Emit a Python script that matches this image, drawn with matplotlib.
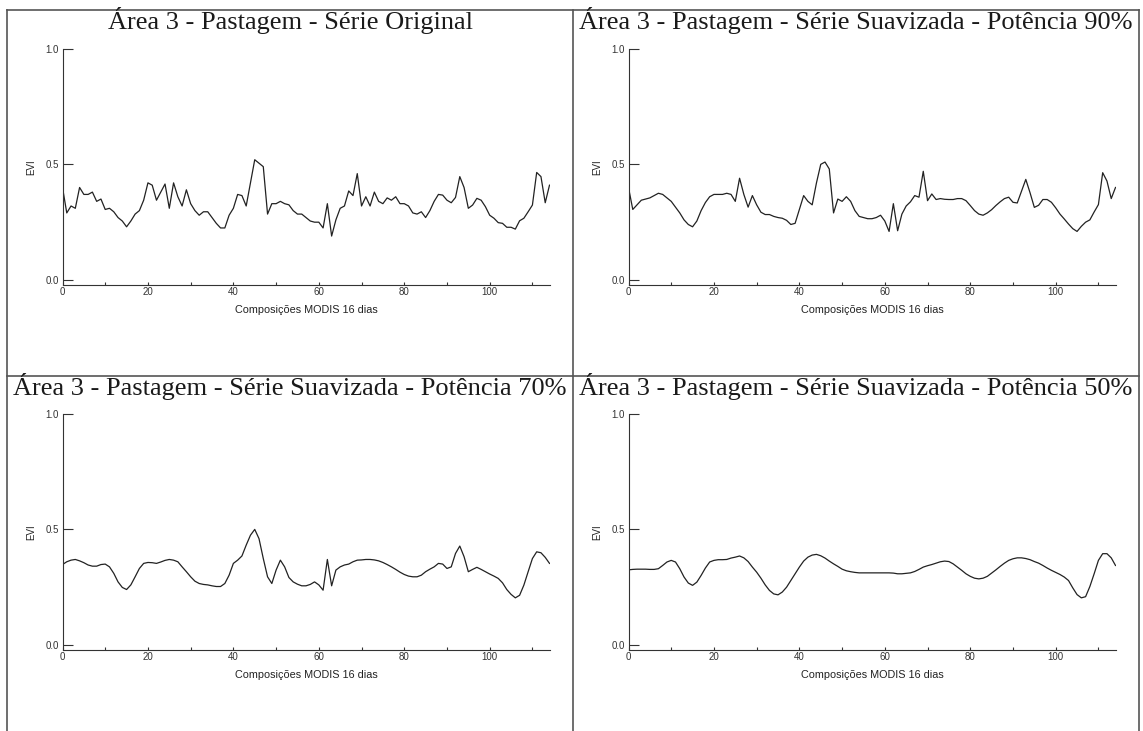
import numpy as np
import matplotlib.pyplot as plt
from matplotlib.lines import Line2D

# indice das composicoes MODIS (0..114)
composicoes = np.arange(115)

evi_original = [0.40, 0.29, 0.32, 0.31, 0.40, 0.37, 0.37, 0.38, 0.34, 0.35,
                0.305, 0.31, 0.295, 0.27, 0.255, 0.23, 0.255, 0.285, 0.30, 0.345,
                0.42, 0.41, 0.345, 0.38, 0.415, 0.31, 0.42, 0.36, 0.32, 0.39,
                0.33, 0.30, 0.28, 0.295, 0.295, 0.27, 0.245, 0.225, 0.225, 0.28,
                0.31, 0.37, 0.365, 0.32, 0.42, 0.52, 0.505, 0.49, 0.285, 0.33,
                0.33, 0.34, 0.33, 0.325, 0.30, 0.285, 0.285, 0.27, 0.255, 0.25,
                0.25, 0.225, 0.33, 0.19, 0.26, 0.31, 0.32, 0.385, 0.365, 0.46,
                0.32, 0.36, 0.32, 0.38, 0.34, 0.33, 0.355, 0.345, 0.36, 0.33,
                0.33, 0.32, 0.29, 0.285, 0.295, 0.27, 0.30, 0.34, 0.37, 0.367,
                0.345, 0.334, 0.357, 0.447, 0.40, 0.31, 0.324, 0.353, 0.345, 0.317,
                0.28, 0.267, 0.248, 0.245, 0.228, 0.228, 0.22, 0.256, 0.267, 0.295,
                0.324, 0.465, 0.447, 0.334, 0.41]

evi_90 = [0.40, 0.305, 0.325, 0.345, 0.35, 0.355, 0.365, 0.375, 0.37, 0.355,
          0.34, 0.315, 0.29, 0.26, 0.24, 0.23, 0.255, 0.30, 0.335, 0.36,
          0.37, 0.37, 0.37, 0.375, 0.37, 0.34, 0.44, 0.37, 0.315, 0.365,
          0.325, 0.293, 0.283, 0.283, 0.275, 0.27, 0.267, 0.258, 0.24, 0.245,
          0.305, 0.365, 0.34, 0.325, 0.42, 0.50, 0.51, 0.48, 0.29, 0.35,
          0.34, 0.36, 0.34, 0.30, 0.275, 0.27, 0.265, 0.265, 0.27, 0.28,
          0.255, 0.21, 0.33, 0.213, 0.285, 0.32, 0.338, 0.365, 0.358, 0.47,
          0.343, 0.372, 0.348, 0.352, 0.349, 0.348, 0.348, 0.352, 0.352, 0.343,
          0.322, 0.30, 0.285, 0.28, 0.29, 0.304, 0.322, 0.338, 0.352, 0.358,
          0.336, 0.333, 0.384, 0.435, 0.377, 0.314, 0.323, 0.348, 0.348, 0.336,
          0.312, 0.285, 0.264, 0.242, 0.222, 0.21, 0.232, 0.25, 0.26, 0.294,
          0.326, 0.464, 0.428, 0.352, 0.40]

evi_70 = [0.348, 0.36, 0.367, 0.37, 0.364, 0.356, 0.346, 0.341, 0.341, 0.348,
          0.35, 0.338, 0.31, 0.273, 0.249, 0.24, 0.26, 0.295, 0.331, 0.353,
          0.357, 0.356, 0.353, 0.359, 0.366, 0.37, 0.367, 0.36, 0.338, 0.317,
          0.295, 0.276, 0.266, 0.262, 0.26, 0.256, 0.253, 0.253, 0.266, 0.302,
          0.353, 0.367, 0.385, 0.432, 0.475, 0.50, 0.46, 0.374, 0.295, 0.266,
          0.324, 0.367, 0.338, 0.292, 0.273, 0.263, 0.256, 0.256, 0.262, 0.273,
          0.26, 0.237, 0.37, 0.256, 0.324, 0.338, 0.346, 0.35, 0.36, 0.367,
          0.368, 0.37, 0.37, 0.368, 0.364, 0.357, 0.348, 0.338, 0.327, 0.315,
          0.305, 0.298, 0.295, 0.295, 0.302, 0.317, 0.328, 0.338, 0.353, 0.35,
          0.331, 0.338, 0.396, 0.428, 0.382, 0.317, 0.327, 0.336, 0.327, 0.317,
          0.307, 0.298, 0.288, 0.269, 0.24, 0.219, 0.204, 0.215, 0.259, 0.317,
          0.374, 0.403, 0.399, 0.379, 0.353]

evi_50 = [0.325, 0.327, 0.328, 0.328, 0.328, 0.327, 0.327, 0.33, 0.344, 0.359,
          0.366, 0.359, 0.33, 0.294, 0.268, 0.258, 0.272, 0.301, 0.333, 0.359,
          0.366, 0.369, 0.369, 0.37, 0.376, 0.38, 0.385, 0.377, 0.361, 0.337,
          0.315, 0.289, 0.26, 0.236, 0.221, 0.217, 0.229, 0.25, 0.279, 0.308,
          0.337, 0.363, 0.38, 0.389, 0.392, 0.386, 0.376, 0.363, 0.351, 0.34,
          0.328, 0.321, 0.317, 0.314, 0.312, 0.312, 0.312, 0.312, 0.312, 0.312,
          0.312, 0.312, 0.311, 0.308, 0.308, 0.31, 0.312, 0.318, 0.327, 0.337,
          0.343, 0.348, 0.354, 0.36, 0.363, 0.361, 0.351, 0.337, 0.323, 0.308,
          0.297, 0.289, 0.286, 0.289, 0.297, 0.311, 0.325, 0.34, 0.354, 0.366,
          0.373, 0.377, 0.377, 0.374, 0.369, 0.361, 0.354, 0.344, 0.333, 0.323,
          0.314, 0.305, 0.294, 0.279, 0.247, 0.218, 0.204, 0.209, 0.253, 0.308,
          0.366, 0.395, 0.395, 0.377, 0.344]

titulos = ["Área 3 - Pastagem - Série Original",
           "Área 3 - Pastagem - Série Suavizada - Potência 90%",
           "Área 3 - Pastagem - Série Suavizada - Potência 70%",
           "Área 3 - Pastagem - Série Suavizada - Potência 50%"]
series = [evi_original, evi_90, evi_70, evi_50]

W, H = 1143, 731
fig = plt.figure(figsize=(W / 100, H / 100), dpi=100)

def fx(px):
    return px / W

def fy(py):
    return 1 - py / H

# caixas dos paineis (pixels: esquerda x=0, topo y=1.0, base do eixo)
lefts = [62.5, 628.5, 62.5, 628.5]
tops = [48.7, 48.7, 413.8, 413.8]
bottoms = [285, 285, 650, 650]
cell_cx = [290, 856, 290, 856]
title_base = [29, 29, 395.5, 395.5]
ax_w = 487

for i in range(4):
    ax = fig.add_axes([fx(lefts[i]), fy(bottoms[i]), fx(ax_w),
                       (bottoms[i] - tops[i]) / H])
    ax.plot(composicoes, series[i], color="#222222", lw=0.9)
    ax.set_xlim(0, 114)
    ax.set_ylim(-0.0216, 1.0)
    ax.spines["top"].set_visible(False)
    ax.spines["right"].set_visible(False)
    for s in ["left", "bottom"]:
        ax.spines[s].set_linewidth(0.8)
        ax.spines[s].set_color("#333333")
    ax.set_yticks([0.0, 0.5, 1.0])
    ax.set_yticklabels(["0.0", "0.5", "1.0"])
    ax.set_xticks(np.arange(0, 120, 10))
    ax.set_xticklabels([str(v) if v % 20 == 0 else "" for v in range(0, 120, 10)])
    ax.tick_params(axis="y", direction="in", length=7, width=0.8, pad=2.5,
                   labelsize=7, colors="#333333")
    ax.tick_params(axis="x", direction="in", length=2.5, width=0.8, pad=1.5,
                   labelsize=7, colors="#333333")
    for lab in ax.get_xticklabels() + ax.get_yticklabels():
        lab.set_fontfamily("Liberation Sans")
    ax.set_xlabel("Composições MODIS 16 dias", fontsize=7.8,
                  family="Liberation Sans", labelpad=6, color="#222222")
    ax.set_ylabel("EVI", fontsize=7, family="Liberation Sans", labelpad=7,
                  color="#222222")
    fig.text(fx(cell_cx[i]), fy(title_base[i]), titulos[i], ha="center",
             va="baseline", fontsize=19, family="Liberation Serif",
             color="#1a1a1a")

# moldura das celulas
borda = dict(color="#555555", lw=1.2, transform=fig.transFigure)
fig.add_artist(Line2D([fx(7), fx(1139)], [fy(10), fy(10)], **borda))
fig.add_artist(Line2D([fx(7), fx(1139)], [fy(375.5), fy(375.5)], **borda))
for px in [7, 573, 1139]:
    fig.add_artist(Line2D([fx(px), fx(px)], [fy(10), 0], **borda))

fig.savefig("out.png", dpi=100)
